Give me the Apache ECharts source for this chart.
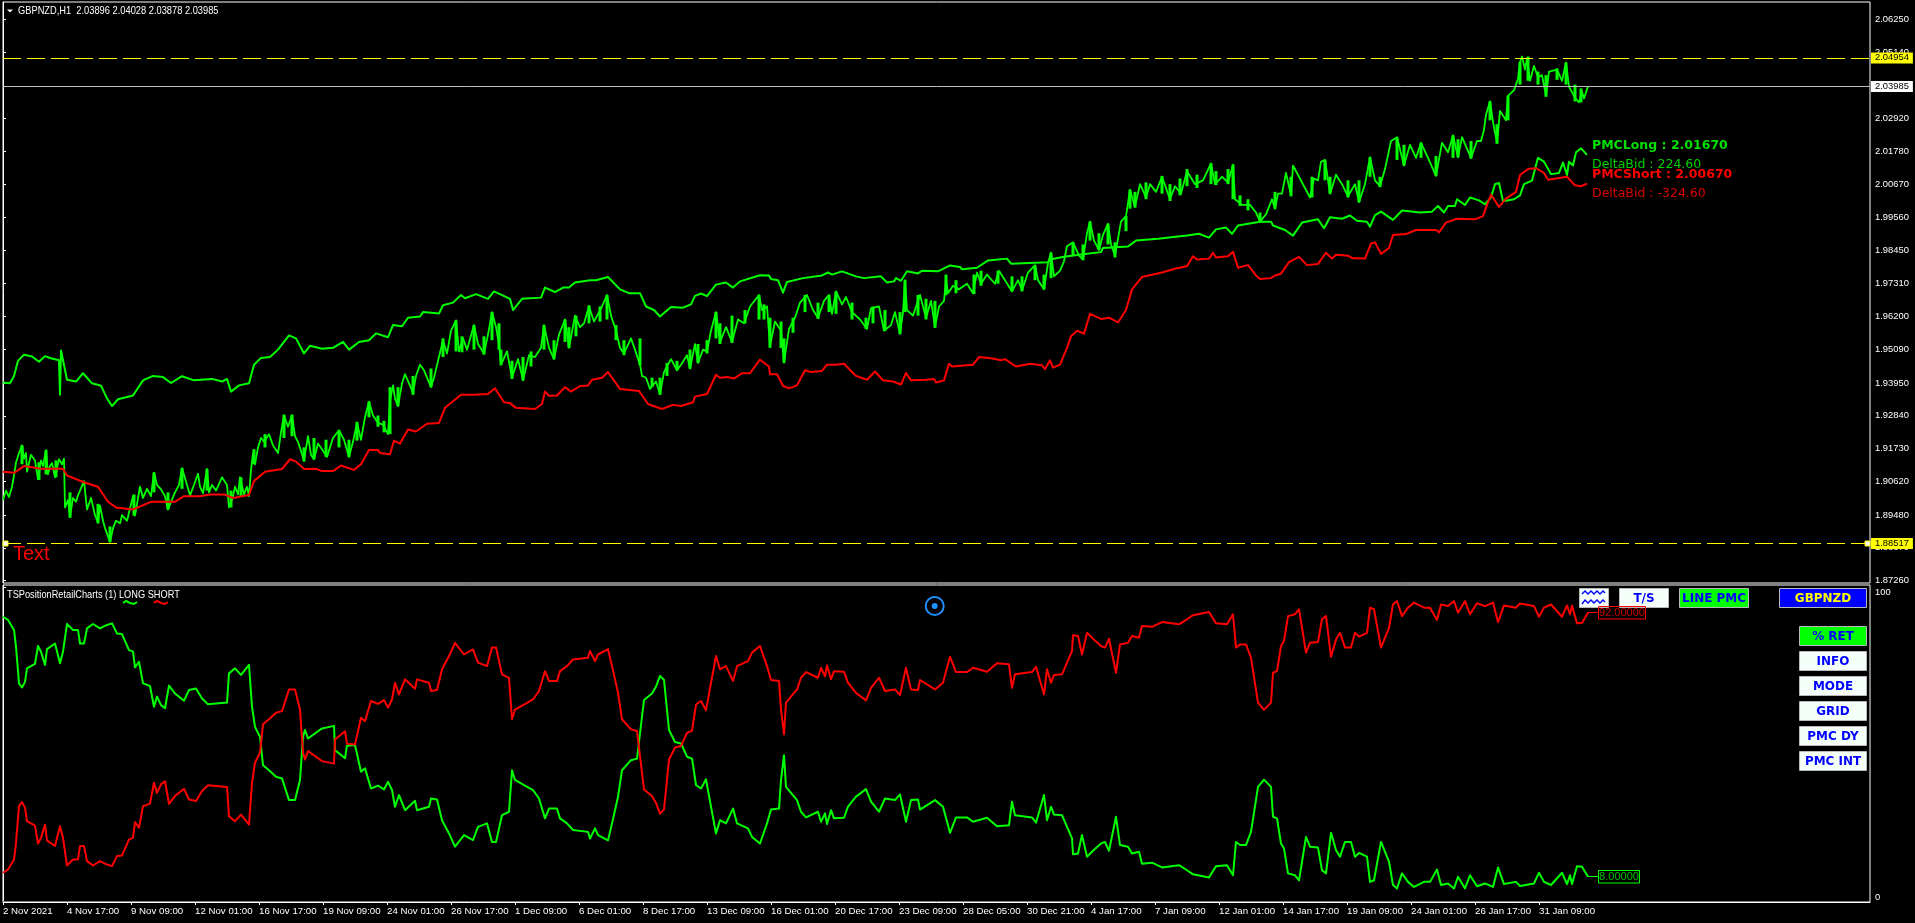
<!DOCTYPE html>
<html><head><meta charset="utf-8">
<style>html,body{margin:0;padding:0;background:#000;overflow:hidden}#c{width:1915px;height:923px}</style>
<script src="https://cdn.jsdelivr.net/npm/echarts@6/dist/echarts.min.js"></script>
</head><body><div id="c"></div>
<script>
// x = bar number (one bar per hour of trading), y = value
const priceLevels=[2.0625,2.0514,2.0292,2.0178,2.0067,1.9956,1.9845,1.9731,1.962,1.9509,1.9395,1.9284,1.9173,1.9062,1.8948,1.8837,1.8726];
const hourTicks=[0,64,128,192,256,320,384,448,512,576,640,704,768,832,896,960,1024,1088,1152,1216,1280,1344,1408,1472,1536];
const hourLabels=['2 Nov 2021','4 Nov 17:00','9 Nov 09:00','12 Nov 01:00','16 Nov 17:00','19 Nov 09:00','24 Nov 01:00','26 Nov 17:00','1 Dec 09:00','6 Dec 01:00','8 Dec 17:00','13 Dec 09:00','16 Dec 01:00','20 Dec 17:00','23 Dec 09:00','28 Dec 05:00','30 Dec 21:00','4 Jan 17:00','7 Jan 09:00','12 Jan 01:00','14 Jan 17:00','19 Jan 09:00','24 Jan 01:00','26 Jan 17:00','31 Jan 09:00'];
const upperLevel=2.04954, lowerLevel=1.88517, lastBid=2.03985, axisRibbon=0.3;

const pmcLong=[[0,1.9397],[7,1.9394],[11,1.9419],[15,1.9470],[21,1.9491],[29,1.9485],[36,1.9467],[42,1.9486],[48,1.9479],[56,1.9472],[57,1.9355],[58,1.9505],[64,1.9406],[73,1.9400],[80,1.9428],[89,1.9394],[98,1.9386],[104,1.9343],[109,1.9317],[115,1.9340],[130,1.9353],[140,1.9404],[150,1.9419],[160,1.9415],[168,1.9395],[179,1.9418],[191,1.9404],[209,1.9409],[219,1.9400],[224,1.9409],[228,1.9366],[236,1.9387],[246,1.9394],[251,1.9457],[258,1.9480],[267,1.9483],[275,1.9508],[286,1.9556],[293,1.9546],[301,1.9495],[307,1.9521],[319,1.9511],[330,1.9514],[340,1.9534],[346,1.9508],[356,1.9534],[366,1.9540],[373,1.9563],[385,1.9550],[390,1.9591],[399,1.9587],[405,1.9616],[417,1.9620],[420,1.9635],[436,1.9630],[440,1.9658],[450,1.9667],[458,1.9693],[462,1.9682],[473,1.9696],[485,1.9680],[491,1.9705],[497,1.9696],[507,1.9680],[510,1.9642],[519,1.9680],[538,1.9684],[542,1.9718],[552,1.9703],[560,1.9718],[566,1.9718],[572,1.9735],[587,1.9743],[593,1.9743],[605,1.9754],[617,1.9712],[626,1.9699],[637,1.9699],
[643,1.9654],[651,1.9642],[657,1.9620],[668,1.9652],[680,1.9650],[688,1.9661],[692,1.9690],[698,1.9698],[704,1.9689],[713,1.9728],[723,1.9735],[730,1.9718],[737,1.9739],[757,1.9760],[766,1.9759],[768,1.9747],[775,1.9743],[780,1.9701],[784,1.9737],[800,1.9750],[819,1.9759],[825,1.9769],[829,1.9762],[839,1.9773],[853,1.9756],[861,1.9750],[878,1.9756],[884,1.9735],[891,1.9739],[893,1.9750],[898,1.9741],[904,1.9773],[915,1.9766],[919,1.9775],[935,1.9773],[947,1.9793],[957,1.9788],[959,1.9780],[974,1.9785],[985,1.9810],[1004,1.9816],[1008,1.9799],[1045,1.9804],[1047,1.9813],[1061,1.9822],[1082,1.9832],[1098,1.9838],[1100,1.9852],[1125,1.9857],[1133,1.9877],[1155,1.9883],[1184,1.9894],[1196,1.9900],[1206,1.9887],[1213,1.9915],[1223,1.9921],[1229,1.9900],[1235,1.9928],[1257,1.9941],[1268,1.9941],[1270,1.9928],
[1282,1.9913],[1290,1.9894],[1299,1.9938],[1315,1.9949],[1321,1.9919],[1327,1.9956],[1339,1.9951],[1347,1.9962],[1354,1.9944],[1364,1.9941],[1367,1.9924],[1372,1.9963],[1378,1.9975],[1390,1.9947],[1399,1.9979],[1417,1.9972],[1429,1.9975],[1435,1.9994],[1441,1.9972],[1445,1.9994],[1452,1.9994],[1454,2.0017],[1462,1.9998],[1467,2.0023],[1476,2.0013],[1482,2.0000],[1488,2.0023],[1492,2.0068],[1496,2.0072],[1500,2.0010],[1511,2.0017],[1517,2.0030],[1521,2.0068],[1529,2.0080],[1535,2.0157],[1537,2.0163],[1541,2.0144],[1548,2.0102],[1556,2.0106],[1560,2.0141],[1564,2.0099],[1566,2.0144],[1570,2.0131],[1573,2.0176],[1578,2.0189],[1584,2.0167]];

const pmcShort=[[0,1.9095],[11,1.9091],[21,1.9114],[38,1.9105],[60,1.9105],[64,1.9082],[81,1.9059],[95,1.9044],[105,1.8993],[113,1.8974],[130,1.8967],[148,1.8993],[172,1.8993],[181,1.9012],[197,1.9012],[207,1.9018],[221,1.9018],[230,1.9006],[246,1.9016],[251,1.9063],[262,1.9095],[279,1.9104],[287,1.9137],[293,1.9129],[301,1.9104],[313,1.9105],[319,1.9097],[330,1.9097],[338,1.9116],[351,1.9101],[358,1.9120],[366,1.9168],[375,1.9168],[377,1.9158],[387,1.9154],[391,1.9200],[397,1.9190],[405,1.9238],[413,1.9231],[424,1.9257],[436,1.9260],[442,1.9311],[458,1.9355],[470,1.9355],[485,1.9358],[492,1.9377],[501,1.9330],[507,1.9327],[513,1.9311],[532,1.9307],[539,1.9324],[542,1.9366],[546,1.9352],[554,1.9353],[562,1.9381],[568,1.9366],[577,1.9385],[585,1.9387],[589,1.9406],[599,1.9413],[605,1.9432],[617,1.9375],[636,1.9368],
[645,1.9324],[659,1.9307],[670,1.9321],[678,1.9317],[690,1.9330],[692,1.9349],[704,1.9358],[713,1.9423],[717,1.9413],[725,1.9415],[731,1.9410],[739,1.9428],[747,1.9428],[757,1.9474],[766,1.9451],[767,1.9425],[774,1.9425],[780,1.9385],[786,1.9377],[794,1.9387],[802,1.9438],[808,1.9432],[819,1.9436],[824,1.9457],[833,1.9457],[841,1.9460],[853,1.9419],[864,1.9406],[872,1.9434],[880,1.9404],[890,1.9400],[898,1.9390],[903,1.9429],[908,1.9404],[923,1.9406],[931,1.9409],[933,1.9397],[941,1.9404],[946,1.9460],[949,1.9451],[970,1.9457],[976,1.9483],[988,1.9479],[998,1.9472],[1002,1.9476],[1013,1.9451],[1027,1.9460],[1039,1.9455],[1042,1.9442],[1047,1.9472],[1050,1.9447],[1057,1.9457],[1064,1.9514],[1068,1.9553],[1074,1.9572],[1081,1.9562],[1087,1.9629],[1098,1.9612],[1106,1.9616],[1115,1.9600],[1123,1.9642],[1129,1.9712],[1139,1.9754],[1159,1.9769],[1172,1.9782],[1184,1.9790],[1190,1.9824],[1194,1.9813],[1206,1.9816],[1210,1.9836],[1213,1.9820],[1225,1.9824],[1230,1.9839],[1235,1.9785],[1245,1.9794],[1253,1.9759],[1257,1.9747],[1268,1.9750],
[1272,1.9759],[1278,1.9765],[1286,1.9804],[1296,1.9822],[1304,1.9794],[1315,1.9798],[1323,1.9836],[1329,1.9816],[1333,1.9829],[1345,1.9826],[1350,1.9817],[1362,1.9816],[1368,1.9867],[1372,1.9871],[1378,1.9832],[1386,1.9852],[1390,1.9896],[1403,1.9899],[1413,1.9913],[1433,1.9913],[1436,1.9905],[1443,1.9938],[1454,1.9951],[1472,1.9949],[1480,1.9960],[1484,1.9998],[1488,2.0032],[1496,1.9991],[1503,2.0019],[1513,2.0042],[1517,2.0099],[1525,2.0119],[1533,2.0122],[1541,2.0106],[1545,2.0083],[1564,2.0093],[1572,2.0064],[1578,2.0061],[1584,2.0070]];

const closePrice=[[0,1.8999],[3,1.9031],[6,1.9009],[9,1.9044],[11,1.9082],[13,1.9126],[16,1.9158],[19,1.9184],[21,1.9139],[23,1.9158],[24,1.9095],[28,1.9152],[32,1.9133],[35,1.9069],[38,1.9133],[40,1.9114],[43,1.9168],[45,1.9086],[47,1.9114],[49,1.9124],[52,1.9076],[56,1.9137],[59,1.9120],[61,1.9139],[62,1.8974],[65,1.8999],[67,1.8942],[70,1.9006],[73,1.8993],[75,1.9015],[81,1.9063],[84,1.8967],[88,1.9006],[92,1.8948],[95,1.8923],[97,1.8980],[100,1.8929],[102,1.8904],[107,1.8857],[110,1.8904],[113,1.8929],[117,1.8920],[119,1.8948],[124,1.8929],[130,1.9012],[132,1.8946],[137,1.9044],[140,1.9006],[144,1.9037],[148,1.9012],[151,1.9092],[154,1.9050],[158,1.9035],[162,1.9012],[165,1.8967],[168,1.8993],[172,1.9025],[176,1.9050],[179,1.9107],[184,1.9050],[187,1.9015],[191,1.9050],[195,1.9088],[197,1.9044],[200,1.9022],[204,1.9104],[206,1.9025],[209,1.9050],[213,1.9031],[219,1.9076],[224,1.9050],[226,1.8974],[230,1.9012],[232,1.9044],[235,1.9018],[237,1.9076],[241,1.9018],[244,1.9044],[246,1.9012],[248,1.9101],[250,1.9158],[252,1.9120],[255,1.9177],[258,1.9209],[261,1.9196],[266,1.9222],[270,1.9184],[275,1.9158],[278,1.9228],[281,1.9285],[285,1.9247],[289,1.9285],[292,1.9215],[295,1.9196],[301,1.9133],[305,1.9215],[308,1.9152],[311,1.9137],[315,1.9190],[319,1.9171],[324,1.9145],[330,1.9209],[336,1.9235],[341,1.9203],[346,1.9145],[350,1.9196],[354,1.9260],[358,1.9203],[362,1.9279],[366,1.9332],[370,1.9285],[375,1.9260],[380,1.9254],[385,1.9222],[387,1.9336],[390,1.9387],[392,1.9343],[395,1.9317],[399,1.9394],[402,1.9425],[406,1.9394],[410,1.9362],[413,1.9419],[417,1.9457],[421,1.9438],[428,1.9381],[431,1.9413],[435,1.9470],[440,1.9540],[444,1.9495],[448,1.9572],[453,1.9607],[456,1.9502],[460,1.9546],[464,1.9508],[471,1.9591],[475,1.9527],[481,1.9495],[485,1.9559],[489,1.9635],[493,1.9584],[496,1.9527],[498,1.9457],[504,1.9502],[509,1.9413],[515,1.9476],[520,1.9404],[526,1.9489],[532,1.9483],[538,1.9514],[541,1.9591],[546,1.9514],[551,1.9476],[556,1.9559],[562,1.9610],[566,1.9514],[572,1.9623],[577,1.9584],[581,1.9597],[586,1.9654],[591,1.9603],[599,1.9654],[604,1.9693],[608,1.9623],[613,1.9572],[617,1.9514],[621,1.9495],[628,1.9546],[632,1.9508],[637,1.9457],
[639,1.9419],[643,1.9413],[647,1.9375],[653,1.9400],[657,1.9358],[661,1.9432],[668,1.9476],[674,1.9438],[678,1.9457],[684,1.9489],[687,1.9444],[692,1.9527],[695,1.9463],[700,1.9508],[704,1.9502],[708,1.9572],[713,1.9635],[717,1.9534],[723,1.9584],[729,1.9534],[735,1.9610],[741,1.9597],[747,1.9654],[756,1.9693],[759,1.9642],[764,1.9654],[767,1.9521],[772,1.9603],[778,1.9572],[781,1.9464],[786,1.9578],[792,1.9616],[797,1.9667],[804,1.9693],[810,1.9642],[815,1.9616],[821,1.9673],[826,1.9693],[829,1.9629],[833,1.9705],[839,1.9661],[843,1.9686],[849,1.9635],[857,1.9610],[864,1.9578],[868,1.9648],[876,1.9654],[881,1.9572],[888,1.9591],[892,1.9635],[897,1.9561],[900,1.9635],[902,1.9743],[904,1.9642],[910,1.9623],[917,1.9693],[923,1.9616],[928,1.9673],[932,1.9584],[936,1.9654],[941,1.9673],[943,1.9743],[945,1.9699],[950,1.9724],[956,1.9712],[964,1.9731],[970,1.9699],[974,1.9769],[978,1.9731],[984,1.9762],[992,1.9731],[996,1.9775],[1002,1.9743],[1009,1.9705],[1015,1.9743],[1019,1.9709],[1025,1.9769],[1032,1.9794],[1035,1.9743],[1041,1.9712],[1045,1.9801],[1048,1.9836],[1051,1.9756],[1057,1.9775],[1061,1.9807],[1064,1.9858],[1070,1.9871],[1076,1.9826],[1080,1.9813],[1084,1.9902],[1087,1.9941],[1091,1.9877],[1096,1.9845],[1100,1.9896],[1105,1.9934],[1108,1.9864],[1112,1.9826],[1118,1.9941],[1123,1.9960],[1127,2.0049],[1132,1.9991],[1137,2.0068],[1143,2.0023],[1147,2.0068],[1153,2.0042],[1159,2.0093],[1167,2.0017],[1172,2.0061],[1178,2.0036],[1184,2.0112],[1192,2.0068],[1200,2.0081],[1208,2.0138],[1212,2.0068],[1219,2.0093],[1225,2.0074],[1230,2.0134],[1232,2.0017],[1239,1.9998],[1247,1.9998],[1253,1.9972],[1257,1.9941],[1263,1.9966],[1269,2.0017],[1272,1.9985],
[1273,1.9985],[1275,2.0036],[1279,2.0036],[1283,2.0106],[1288,2.0030],[1290,2.0131],[1296,2.0093],[1301,2.0061],[1307,2.0023],[1311,2.0087],[1315,2.0081],[1318,2.0144],[1322,2.0150],[1327,2.0036],[1333,2.0100],[1339,2.0068],[1345,2.0027],[1352,2.0068],[1356,2.0007],[1362,2.0068],[1367,2.0159],[1372,2.0081],[1377,2.0061],[1382,2.0119],[1388,2.0214],[1394,2.0227],[1401,2.0131],[1407,2.0201],[1413,2.0157],[1418,2.0208],[1425,2.0157],[1433,2.0096],[1439,2.0208],[1445,2.0176],[1450,2.0233],[1455,2.0159],[1459,2.0227],[1464,2.0188],[1468,2.0157],[1474,2.0214],[1478,2.0214],[1481,2.0252],[1483,2.0303],[1487,2.0348],[1490,2.0278],[1494,2.0208],[1497,2.0316],[1503,2.0284],[1505,2.0367],[1511,2.0386],[1515,2.0424],[1517,2.0481],[1519,2.0500],[1522,2.0456],[1524,2.0494],[1527,2.0418],[1531,2.0468],[1535,2.0430],[1539,2.0437],[1543,2.0367],[1546,2.0449],[1554,2.0456],[1559,2.0418],[1563,2.0479],[1566,2.0398],[1572,2.0360],[1576,2.0345],[1579,2.0380],[1581,2.0358],[1585,2.0399]];

// [bar, high, low] of the longer hourly ranges
const priceRanges=[[19,1.9184,1.9120],[36,1.9127,1.9067],[43,1.9168,1.9086],[53,1.9133,1.9076],[67,1.9025,1.8939],[95,1.8986,1.8920],[107,1.8910,1.8857],[131,1.9018,1.8946],[151,1.9092,1.9025],[165,1.9025,1.8967],[179,1.9107,1.9037],[204,1.9104,1.9031],[228,1.9031,1.8974],[238,1.9076,1.9012],[251,1.9171,1.9120],[262,1.9222,1.9177],[281,1.9288,1.9209],[289,1.9288,1.9215],[301,1.9177,1.9129],[311,1.9209,1.9137],[323,1.9203,1.9145],[336,1.9235,1.9177],[346,1.9203,1.9145],[354,1.9264,1.9200],[366,1.9332,1.9279],[375,1.9285,1.9247],[381,1.9267,1.9228],[387,1.9381,1.9222],[395,1.9381,1.9317],[410,1.9419,1.9355],[428,1.9444,1.9381],[440,1.9546,1.9483],[453,1.9607,1.9502],[459,1.9553,1.9499],[471,1.9591,1.9508],[481,1.9553,1.9491],[489,1.9635,1.9540],[496,1.9597,1.9508],[498,1.9508,1.9455],[509,1.9470,1.9409],[520,1.9483,1.9404],[528,1.9502,1.9451],[541,1.9591,1.9508],[551,1.9540,1.9476],[562,1.9610,1.9534],[566,1.9584,1.9514],[573,1.9623,1.9553],[586,1.9658,1.9597],[597,1.9654,1.9603],[604,1.9693,1.9610],[613,1.9591,1.9540],[621,1.9540,1.9489],[637,1.9546,1.9455],
[649,1.9413,1.9381],[657,1.9413,1.9355],[664,1.9463,1.9419],[674,1.9470,1.9438],[687,1.9508,1.9444],[695,1.9527,1.9463],[704,1.9540,1.9495],[713,1.9635,1.9546],[717,1.9597,1.9527],[729,1.9623,1.9531],[742,1.9642,1.9597],[756,1.9693,1.9610],[761,1.9661,1.9610],[767,1.9616,1.9514],[778,1.9603,1.9514],[781,1.9546,1.9464],[790,1.9616,1.9565],[802,1.9693,1.9635],[815,1.9667,1.9612],[826,1.9693,1.9635],[833,1.9705,1.9629],[849,1.9667,1.9610],[863,1.9616,1.9578],[870,1.9654,1.9597],[882,1.9642,1.9572],[897,1.9635,1.9561],[902,1.9743,1.9635],[915,1.9693,1.9623],[923,1.9680,1.9610],[932,1.9673,1.9582],[943,1.9762,1.9692],[953,1.9743,1.9699],[971,1.9762,1.9696],[978,1.9775,1.9724],[995,1.9775,1.9731],[1009,1.9756,1.9705],[1019,1.9756,1.9705],[1032,1.9794,1.9743],[1041,1.9762,1.9712],[1048,1.9836,1.9750],[1070,1.9871,1.9826],[1080,1.9864,1.9811],[1087,1.9941,1.9877],[1096,1.9902,1.9845],[1105,1.9934,1.9864],[1112,1.9871,1.9820],[1123,1.9960,1.9909],[1127,2.0049,1.9985],[1132,2.0042,1.9989],[1143,2.0074,2.0017],[1159,2.0096,2.0036],[1167,2.0068,2.0011],[1177,2.0087,2.0030],[1184,2.0119,2.0061],[1194,2.0100,2.0055],[1208,2.0138,2.0068],[1213,2.0112,2.0065],[1225,2.0119,2.0068],[1230,2.0134,2.0017],[1237,2.0030,1.9994],[1245,2.0017,1.9979],[1257,1.9972,1.9938],[1272,2.0042,1.9985],
[1288,2.0093,2.0027],[1309,2.0093,2.0023],[1322,2.0150,2.0081],[1327,2.0093,2.0036],[1345,2.0081,2.0023],[1356,2.0081,2.0007],[1367,2.0159,2.0093],[1377,2.0093,2.0058],[1394,2.0227,2.0150],[1401,2.0201,2.0131],[1418,2.0208,2.0157],[1433,2.0163,2.0096],[1450,2.0233,2.0157],[1455,2.0220,2.0159],[1468,2.0214,2.0154],[1487,2.0348,2.0284],[1494,2.0271,2.0205],[1505,2.0367,2.0284],[1517,2.0481,2.0405],[1525,2.0500,2.0418],[1535,2.0449,2.0405],[1543,2.0437,2.0364],[1554,2.0460,2.0421],[1563,2.0479,2.0405],[1572,2.0405,2.0348],[1578,2.0392,2.0345]];

const shareLong=[[0,90.7],[5,89.7],[11,86.5],[13,81.2],[16,69.5],[19,68.2],[22,70.0],[24,74.3],[32,75.7],[35,81.4],[38,79.6],[42,75.4],[44,80.4],[52,82.2],[57,75.9],[60,79.6],[64,88.4],[70,86.5],[75,86.5],[77,82.2],[81,82.2],[84,87.0],[90,88.4],[97,87.0],[104,88.1],[109,88.6],[114,85.4],[119,85.2],[126,80.1],[130,79.6],[132,74.6],[136,76.4],[140,69.5],[147,68.7],[151,62.1],[154,65.3],[158,62.6],[162,61.6],[166,68.8],[172,66.3],[181,64.0],[186,67.4],[193,67.9],[199,64.7],[205,62.9],[224,63.4],[226,72.7],[232,74.3],[238,72.2],[246,75.4],[249,62.1],[252,55.7],[257,52.5],[260,43.5],[266,41.9],[273,39.8],[279,39.3],[286,32.4],[292,32.4],[297,38.8],[300,52.5],[302,54.7],[305,52.0],[319,55.2],[331,56.0],[332,48.3],[342,45.7],[344,49.7],[352,49.9],[358,41.4],[362,42.5],[368,36.1],[375,37.0],[381,35.8],[385,38.2],[389,35.6],[392,30.3],[396,34.0],[402,29.2],[412,32.2],[414,29.2],[426,30.3],[428,32.9],[434,32.6],[439,26.0],[446,21.8],[452,17.6],[461,21.3],[470,19.7],[475,23.9],[484,25.0],[489,19.1],[493,19.1],[499,27.6],[506,28.7],[509,41.9],[512,38.8],[521,37.2],[530,35.6],[536,32.9],[542,26.6],[546,29.7],[554,29.7],[557,26.6],[564,25.0],[570,22.9],[585,22.3],[587,20.2],[592,23.4],[595,21.3],[605,19.6],[609,25.0],[615,33.4],[619,41.9],[628,45.1],[634,45.6],[637,53.6],
[641,64.2],[649,66.3],[653,68.5],[657,71.9],[661,70.6],[666,54.7],[672,50.9],[678,50.4],[684,46.2],[689,45.6],[693,37.2],[698,36.1],[703,39.0],[708,30.3],[713,21.8],[717,26.0],[723,25.0],[730,29.7],[734,25.0],[745,23.4],[749,20.7],[757,18.6],[764,25.0],[768,29.4],[776,29.7],[778,38.8],[781,46.7],[783,36.6],[794,32.4],[798,28.7],[803,26.9],[815,28.7],[818,25.5],[822,28.2],[824,24.8],[828,29.2],[831,26.6],[841,26.8],[845,30.3],[853,33.5],[863,35.9],[868,31.9],[876,28.7],[882,32.9],[892,32.4],[897,34.2],[903,25.5],[908,32.4],[915,32.6],[917,29.4],[932,32.4],[940,30.3],[947,22.0],[953,26.9],[964,26.9],[970,25.5],[984,26.8],[994,24.1],[1006,24.4],[1009,31.9],[1012,27.6],[1029,26.9],[1033,25.2],[1041,34.0],[1044,26.0],[1048,30.3],[1051,27.8],[1059,27.6],[1069,20.2],[1070,15.2],[1075,15.4],[1079,21.3],[1084,14.4],[1090,16.3],[1098,18.6],[1102,19.1],[1106,16.3],[1113,27.1],[1117,18.1],[1125,17.6],[1129,15.4],[1136,16.0],[1139,12.2],[1149,12.5],[1159,11.0],[1176,11.7],[1184,10.1],[1190,8.8],[1206,7.8],[1213,11.4],[1224,11.7],[1230,8.5],[1233,19.1],[1237,18.1],[1243,18.1],[1248,22.3],[1255,36.6],[1261,38.9],[1268,36.6],[1270,27.1],[1274,26.6],
[1278,18.6],[1281,17.0],[1285,9.1],[1292,8.5],[1296,6.9],[1299,12.8],[1303,20.7],[1307,17.6],[1315,17.3],[1319,10.1],[1323,9.1],[1328,22.0],[1333,16.5],[1337,14.4],[1342,19.1],[1348,19.1],[1352,14.4],[1356,15.6],[1364,14.4],[1367,6.4],[1371,6.9],[1378,19.1],[1386,12.8],[1390,5.4],[1394,4.3],[1399,9.1],[1405,6.4],[1411,4.8],[1421,6.4],[1427,6.4],[1434,10.3],[1438,5.4],[1445,5.9],[1451,4.3],[1455,8.0],[1462,4.3],[1467,8.5],[1474,5.0],[1482,5.9],[1490,4.8],[1495,11.0],[1501,5.7],[1513,6.4],[1517,5.1],[1531,5.9],[1536,9.3],[1541,6.4],[1548,5.4],[1559,9.3],[1564,5.7],[1567,8.5],[1569,5.7],[1574,11.4],[1579,11.2],[1585,8.0]];

const shareShort=[[0,9.3],[5,10.3],[11,13.5],[13,18.8],[16,30.5],[19,31.8],[22,30.0],[24,25.7],[32,24.3],[35,18.6],[38,20.4],[42,24.6],[44,19.6],[52,17.8],[57,24.1],[60,20.4],[64,11.6],[70,13.5],[75,13.5],[77,17.8],[81,17.8],[84,13.0],[90,11.6],[97,13.0],[104,11.9],[109,11.4],[114,14.6],[119,14.8],[126,19.9],[130,20.4],[132,25.4],[136,23.6],[140,30.5],[147,31.3],[151,37.9],[154,34.7],[158,37.4],[162,38.4],[166,31.2],[172,33.7],[181,36.0],[186,32.6],[193,32.1],[199,35.3],[205,37.1],[224,36.6],[226,27.3],[232,25.7],[238,27.8],[246,24.6],[249,37.9],[252,44.3],[257,47.5],[260,56.5],[266,58.1],[273,60.2],[279,60.7],[286,67.6],[292,67.6],[297,61.2],[300,47.5],[302,45.3],[305,48.0],[319,44.8],[331,44.0],[332,51.7],[342,54.3],[344,50.3],[352,50.1],[358,58.6],[362,57.5],[368,63.9],[375,63.0],[381,64.2],[385,61.8],[389,64.4],[392,69.7],[396,66.0],[402,70.8],[412,67.8],[414,70.8],[426,69.7],[428,67.1],[434,67.4],[439,74.0],[446,78.2],[452,82.4],[461,78.7],[470,80.3],[475,76.1],[484,75.0],[489,80.9],[493,80.9],[499,72.4],[506,71.3],[509,58.1],[512,61.2],[521,62.8],[530,64.4],[536,67.1],[542,73.4],[546,70.3],[554,70.3],[557,73.4],[564,75.0],[570,77.1],[585,77.7],[587,79.8],[592,76.6],[595,78.7],[605,80.4],[609,75.0],[615,66.6],[619,58.1],[628,54.9],[634,54.4],[637,46.4],
[641,35.8],[649,33.7],[653,31.5],[657,28.1],[661,29.4],[666,45.3],[672,49.1],[678,49.6],[684,53.8],[689,54.4],[693,62.8],[698,63.9],[703,61.0],[708,69.7],[713,78.2],[717,74.0],[723,75.0],[730,70.3],[734,75.0],[745,76.6],[749,79.3],[757,81.4],[764,75.0],[768,70.6],[776,70.3],[778,61.2],[781,53.3],[783,63.4],[794,67.6],[798,71.3],[803,73.1],[815,71.3],[818,74.5],[822,71.8],[824,75.2],[828,70.8],[831,73.4],[841,73.2],[845,69.7],[853,66.5],[863,64.1],[868,68.1],[876,71.3],[882,67.1],[892,67.6],[897,65.8],[903,74.5],[908,67.6],[915,67.4],[917,70.6],[932,67.6],[940,69.7],[947,78.0],[953,73.1],[964,73.1],[970,74.5],[984,73.2],[994,75.9],[1006,75.6],[1009,68.1],[1012,72.4],[1029,73.1],[1033,74.8],[1041,66.0],[1044,74.0],[1048,69.7],[1051,72.2],[1059,72.4],[1069,79.8],[1070,84.8],[1075,84.6],[1079,78.7],[1084,85.6],[1090,83.7],[1098,81.4],[1102,80.9],[1106,83.7],[1113,72.9],[1117,81.9],[1125,82.4],[1129,84.6],[1136,84.0],[1139,87.8],[1149,87.5],[1159,89.0],[1176,88.3],[1184,89.9],[1190,91.2],[1206,92.2],[1213,88.6],[1224,88.3],[1230,91.5],[1233,80.9],[1237,81.9],[1243,81.9],[1248,77.7],[1255,63.4],[1261,61.1],[1268,63.4],[1270,72.9],[1274,73.4],
[1278,81.4],[1281,83.0],[1285,90.9],[1292,91.5],[1296,93.1],[1299,87.2],[1303,79.3],[1307,82.4],[1315,82.7],[1319,89.9],[1323,90.9],[1328,78.0],[1333,83.5],[1337,85.6],[1342,80.9],[1348,80.9],[1352,85.6],[1356,84.4],[1364,85.6],[1367,93.6],[1371,93.1],[1378,80.9],[1386,87.2],[1390,94.6],[1394,95.7],[1399,90.9],[1405,93.6],[1411,95.2],[1421,93.6],[1427,93.6],[1434,89.7],[1438,94.6],[1445,94.1],[1451,95.7],[1455,92.0],[1462,95.7],[1467,91.5],[1474,95.0],[1482,94.1],[1490,95.2],[1495,89.0],[1501,94.3],[1513,93.6],[1517,94.9],[1531,94.1],[1536,90.7],[1541,93.6],[1548,94.6],[1559,90.7],[1564,94.3],[1567,91.5],[1569,94.3],[1574,88.6],[1579,88.8],[1585,92.0]];

const SANS='"Liberation Sans",sans-serif';
const BOLD='bold 13px "DejaVu Sans"';
const G='#00ff00', R='#ff0000';

function lineSeries(name,data,color,width,idx,extra){
  return Object.assign({name,type:'line',data,xAxisIndex:idx,yAxisIndex:idx,showSymbol:false,symbol:'none',
    lineStyle:{color,width,join:'round'},animation:false,silent:true,clip:true},extra||{});
}
function lvl(value,color,type,bg){
  return {yAxis:value,symbol:'none',lineStyle:{color,width:1,type,opacity:1},
    label:{show:true,position:'end',distance:1,formatter:value.toFixed(5),color:'#000',backgroundColor:bg,padding:[1,4,0,4],
      fontFamily:SANS,fontSize:9.4,lineHeight:10}};
}
const gfx=[];
function rect(x,y,w,h,fill,stroke){gfx.push({type:'rect',shape:{x,y,width:w,height:h},style:{fill:fill||'transparent',stroke:stroke||null,lineWidth:1},z:20,silent:true});}
function txt(x,y,t,fill,font,align,sx){gfx.push({type:'text',x,y,scaleX:sx||1,style:{text:t,fill,font,textAlign:align||'left',textVerticalAlign:'middle'},z:21,silent:true});}
function poly(pts,stroke,w){gfx.push({type:'polyline',shape:{points:pts},style:{stroke,lineWidth:w||1,fill:null},z:21,silent:true});}
function button(x,y,w,h,label,fill,color){rect(x,y,w,h,fill,'#b8b8b8');if(label)txt(x+w/2,y+h/2+0.5,label,color,BOLD,'center',0.92);}

// chart furniture
gfx.push({type:'polygon',shape:{points:[[7,9.5],[13,9.5],[10,12.5]]},style:{fill:'#fff'},z:21,silent:true});
txt(18,11,'GBPNZD,H1  2.03896 2.04028 2.03878 2.03985','#fff','11px '+SANS,'left',0.845);
txt(13,554,'Text','#ff0000','20px "Liberation Sans"');
rect(3,541,5,5,'#fff','#ffff00');rect(1865,541,5,5,'#fff','#ffff00');
txt(1592,146,'PMCLong : 2.01670','#00e000','bold 12.5px "DejaVu Sans"');
txt(1592,164.5,'DeltaBid : 224.60','#00d000','12.5px "DejaVu Sans"');
txt(1592,175,'PMCShort : 2.00670','#ff0000','bold 12.5px "DejaVu Sans"');
txt(1592,193.5,'DeltaBid : -324.60','#d80000','12.5px "DejaVu Sans"');
txt(7,595,'TSPositionRetailCharts (1) LONG SHORT','#fff','11px '+SANS,'left',0.84);
poly([[123,603],[126,601],[130,603],[134,604],[137,602]],G,2);
poly([[154,603],[157,601],[161,603],[165,604],[168,602]],R,2);
gfx.push({type:'circle',shape:{cx:934.7,cy:606,r:9},style:{fill:null,stroke:'#1e90ff',lineWidth:2},z:21,silent:true});
gfx.push({type:'circle',shape:{cx:934.7,cy:606,r:3},style:{fill:'#1e90ff'},z:21,silent:true});
button(1579.5,588.5,29,19,'', '#f5fffa');
poly([[1582,594],[1585,591],[1588,594],[1591,591],[1594,594],[1597,591],[1600,594],[1603,591],[1605,593]],'#0000ff',1.4);
poly([[1582,604],[1585,600],[1588,603],[1591,600],[1594,603],[1597,600],[1600,603],[1603,600],[1605,602]],'#0000ff',1.4);
button(1619.5,588.5,49,19,'T/S','#f5fffa','#0000ff');
button(1679.5,588.5,69,19,'LINE PMC','#00ff00','#0000ff');
button(1779.5,588.5,87,19,'GBPNZD','#0000ff','#ffff00');
button(1799.5,626.5,67,19,'% RET','#00ff00','#0000ff');
['INFO','MODE','GRID','PMC DY','PMC INT'].forEach((t,i)=>button(1799.5,651.5+25*i,67,19,t,'#f5fffa','#0000ff'));
poly([[1587,612.5],[1598,612.5]],R,1);rect(1598.5,606.5,47,12.5,null,R);txt(1622,613.2,'92.00000','#c80000','11px "Liberation Sans"','center');
poly([[1587,876.5],[1598,876.5]],G,1);rect(1598.5,870.5,41,12.5,null,G);txt(1619,877.2,'8.00000','#00c000','11px "Liberation Sans"','center');

const chart=echarts.init(document.getElementById('c'),null,{renderer:'canvas'});
chart.setOption({
  backgroundColor:'#000',animation:false,
  grid:[{left:3,top:2,width:1867,height:581,show:true,borderColor:'#fff',borderWidth:1,backgroundColor:'#000'},
        {left:3,top:585,width:1867,height:317,show:true,borderColor:'#fff',borderWidth:1,backgroundColor:'#000'}],
  xAxis:[{type:'value',gridIndex:0,min:0,max:1867,show:false},
    {type:'value',gridIndex:1,min:0,max:1867,position:'bottom',splitLine:{show:false},
     axisLine:{show:true,onZero:false,lineStyle:{color:'#fff',width:1}},
     axisTick:{show:true,length:3,customValues:hourTicks,lineStyle:{color:'#fff'}},
     axisLabel:{show:true,customValues:hourTicks,formatter:v=>hourLabels[hourTicks.indexOf(v)],align:'left',margin:4,color:'#fff',fontFamily:SANS,fontSize:9.7,hideOverlap:false,showMinLabel:true,showMaxLabel:true}}],
  yAxis:[{type:'value',gridIndex:0,position:'right',min:1.87182,max:2.06845,splitLine:{show:false},
     axisLine:{show:true,lineStyle:{color:'#fff'}},
     axisTick:{show:true,length:3,customValues:priceLevels,lineStyle:{color:'#fff'}},
     axisLabel:{show:true,customValues:priceLevels,formatter:v=>v.toFixed(5),margin:5,color:'#fff',fontFamily:SANS,fontSize:9.4,hideOverlap:false}},
    {type:'value',gridIndex:1,position:'right',min:0,max:100.8,splitLine:{show:false},
     axisLine:{show:true,lineStyle:{color:'#fff'}},
     axisTick:{show:true,length:3,customValues:[0,100],lineStyle:{color:'#fff'}},
     axisLabel:{show:true,customValues:[0,100],formatter:v=>String(v),margin:5,color:'#fff',fontFamily:SANS,fontSize:9.4,hideOverlap:false,verticalAlignMinLabel:'bottom',verticalAlignMaxLabel:'top'}}],
  series:[
    lineSeries('Price',closePrice,G,1.8,0,{z:3,markLine:{silent:true,symbol:'none',precision:5,animation:false,data:[lvl(upperLevel,'#ffff00',[18,6],'#ffff00'),lvl(lowerLevel,'#ffff00',[18,6],'#ffff00'),lvl(lastBid,'#c0c0c0','solid','#ffffff')]}}),
    {name:'Price range',type:'custom',xAxisIndex:0,yAxisIndex:0,data:priceRanges,encode:{x:0,y:[1,2]},silent:true,animation:false,clip:true,z:3,
     renderItem:(p,api)=>{const a=api.coord([api.value(0),api.value(1)]),b=api.coord([api.value(0),api.value(2)]);
       return {type:'line',shape:{x1:a[0],y1:a[1],x2:b[0],y2:b[1]},style:{stroke:G,lineWidth:3}};}},
    lineSeries('PMC Long',pmcLong,G,2,0,{z:4}),
    lineSeries('PMC Short',pmcShort,R,2,0,{z:5}),
    lineSeries('LONG',shareLong,G,2,1,{z:3,markLine:{silent:true,symbol:'none',precision:1,animation:false,label:{show:false},data:[{yAxis:axisRibbon,lineStyle:{color:'#808080',width:1,type:[9,6,3,6],opacity:1}}]}}),
    lineSeries('SHORT',shareShort,R,2,1,{z:4})
  ],
  graphic:gfx
});
</script></body></html>
